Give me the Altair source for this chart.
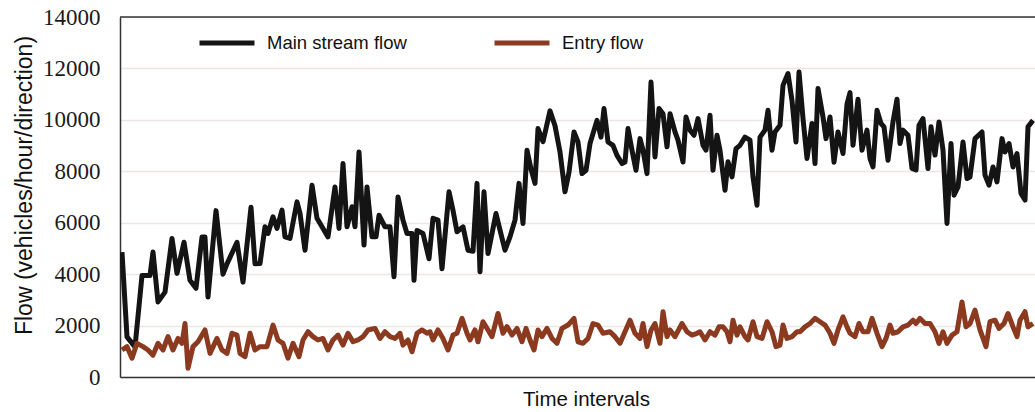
import altair as alt
import pandas as pd

# Time position (arbitrary interval units) and flow values
main_t = [2, 7, 15, 22, 30, 33, 38, 45, 52, 57, 64, 70, 76, 82, 85, 88, 96, 103, 107, 117, 123, 131, 135,
          140, 145, 148, 153, 157, 162, 165, 170, 177, 180, 185, 192, 197, 202, 208, 215, 219, 223, 227, 232, 235, 239, 244, 247, 252, 256, 259, 265, 270, 274, 278, 283, 287, 292, 294, 297,
          303, 309, 313, 318, 322, 329, 333, 337, 343, 348, 353, 357, 360, 364, 368, 376, 380, 385, 390, 395, 399, 403, 407, 411, 415, 418, 423, 430, 435, 440, 445, 449,
          454, 458, 462, 466, 470, 477, 481, 484, 488, 493, 497, 502, 505, 508, 512, 516, 520, 523, 527, 531, 535, 539, 543, 547, 550, 555, 558, 563, 566, 570, 574, 578, 583, 586, 590, 593, 597,
          600, 605, 608, 612, 616, 620, 625, 630, 633, 637, 640, 645, 648, 652, 655, 660, 663, 668, 672, 676, 679, 683, 687, 692, 695, 698, 703, 706, 710, 714, 718, 723, 727, 730, 733, 738, 742,
          747, 750, 753, 757, 761, 764, 768, 773, 777, 780, 783, 788, 792, 796, 799, 803, 808, 811, 815, 819, 823, 827, 831, 834, 838, 843, 847, 850, 855, 862, 865, 869, 873, 877, 882, 885, 889, 893, 897, 901, 905, 908, 913]
main_flow = [4860, 1560, 1170, 3950, 3950, 4860, 2920, 3300, 5390, 4030, 5240, 3760, 3450, 5440, 5440, 3110, 6470, 4000, 4400, 5240, 3690, 6600, 4400,
             4410, 5840, 5580, 6230, 5780, 6490, 5450, 5390, 6810, 6360, 4930, 7460, 6170, 5840, 5450, 7390, 5780, 8300, 5840, 6620, 5840, 8750, 5130, 7390, 5450, 5450, 6290, 5840, 5840, 3900, 7000, 6100, 5580, 5580, 3760, 5700,
             5580, 4600, 6170, 6100, 4210, 7200, 6480, 5650, 5840, 4930, 4890, 7530, 4090, 7200, 4800, 6360, 5710, 4930, 5450, 6100, 7530, 5970, 8820, 8090, 7530, 9660, 9150, 10350, 9770, 8750, 7200, 7960,
             9530, 9140, 7910, 8040, 9080, 9980, 9330, 10440, 9140, 9010, 8620, 8300, 8360, 9660, 8820, 8040, 9270, 8820, 7910, 11470, 8560, 10440, 10240, 8950, 10240, 9530, 9210, 8360, 10110, 9600, 9400, 10050, 9010, 8820, 10180, 8040, 9400,
             8820, 7260, 8370, 7780, 8880, 9010, 9330, 9210, 7780, 6680, 9330, 9600, 10370, 8820, 9530, 9790, 11340, 11800, 10750, 9140, 11860, 10050, 8500, 9860, 8300, 11220, 10110, 9270, 10110, 8350, 9530, 8690, 10610, 11060, 9010, 10800, 8820,
             9600, 8500, 8170, 10370, 9860, 9730, 8430, 9920, 10800, 9080, 9600, 9400, 8110, 8050, 9790, 10050, 8110, 9730, 8630, 9920, 8820, 5970, 9080, 7070, 7390, 9140, 7720, 7780, 9270, 9530, 7850, 7460, 8170, 7590, 9270, 8750, 9080, 8170, 8690, 7140, 6880, 9730, 9980]

entry_t = [2, 7, 12, 17, 23, 28, 33, 38, 43, 48, 53, 58, 62, 65, 68, 73, 78, 85, 90, 97, 102, 107, 112, 117, 120, 125, 130, 135,
           140, 147, 153, 158, 163, 168, 173, 179, 183, 188, 193, 198, 203, 208, 213, 218, 223, 228, 233, 238, 243, 248, 255, 260, 265, 270, 275, 280, 283, 288, 292, 297,
           302, 307, 310, 313, 318, 323, 328, 333, 337, 342, 347, 350, 355, 358, 363, 368, 372, 378, 383, 387, 392, 397, 402, 406, 410, 414, 418, 422, 427, 432, 437, 442, 448,
           454, 458, 463, 468, 473, 478, 483, 490, 495, 500, 505, 510, 515, 520, 523, 527, 531, 535, 540, 543, 547, 550, 555, 562, 567, 572, 577, 580, 585, 590, 595, 599,
           603, 607, 610, 613, 617, 620, 625, 628, 633, 637, 642, 647, 652, 656, 660, 663, 667, 672, 677, 680, 685, 690, 695, 700, 705, 710, 714, 718, 723, 727, 730, 735, 739, 743, 748,
           752, 757, 762, 766, 770, 773, 778, 783, 788, 793, 796, 800, 805, 810, 815, 819, 823, 827, 832, 837, 842, 846, 850, 855, 860, 866, 870, 875, 879, 884, 888, 893, 897, 900, 905, 908, 913]
entry_flow = [1050, 1180, 730, 1310, 1180, 1050, 850, 1310, 1050, 1570, 1050, 1500, 1310, 2080, 340, 1180, 1370, 1830, 920, 1500, 1050, 920, 1700, 1630, 920, 790, 1700, 1050,
              1180, 1180, 2020, 1440, 1310, 730, 1310, 790, 1440, 1760, 1570, 1440, 1500, 1050, 1440, 1630, 1240, 1700, 1370, 1440, 1570, 1830, 1890, 1500, 1760, 1570, 1500, 1700, 1240, 1440, 980, 1700,
              1830, 1700, 1760, 1440, 1830, 1500, 1050, 1630, 1700, 2280, 1700, 1440, 1830, 1370, 2150, 1830, 1570, 2470, 1700, 1960, 1630, 1890, 1370, 1890, 1440, 1050, 1830, 1570, 1890, 1500, 1310, 1890, 2020,
              2280, 1370, 1310, 1500, 2080, 2020, 1700, 1760, 1570, 1310, 1760, 2210, 1700, 1500, 2080, 1180, 1820, 2080, 1310, 2540, 1570, 1830, 1570, 2080, 1760, 1630, 1700, 1760, 1440, 1760, 1630, 1950,
              1950, 1760, 1370, 2210, 1630, 1950, 1570, 1440, 2150, 1570, 1500, 2150, 1760, 1180, 1240, 2020, 1500, 1570, 1760, 1760, 1950, 2080, 2280, 2150, 2020, 1700, 1310, 1830, 2340, 1950, 1700, 1570, 2080, 1760, 1760,
              2280, 1700, 1180, 1500, 2020, 1700, 1760, 1950, 2020, 2210, 2080, 2280, 2080, 2080, 1760, 1310, 1760, 1310, 1630, 1760, 2920, 1950, 2080, 2600, 1830, 1180, 2150, 2210, 1890, 2080, 2470, 1950, 1570, 2210, 2540, 1950, 2080]

series_names = ["Main stream flow", "Entry flow"]
series_colors = ["#141414", "#8b3a20"]
y_ticks = [0, 2000, 4000, 6000, 8000, 10000, 12000, 14000]
y_top = 14000

df = pd.concat([
    pd.DataFrame({"t": main_t, "flow": main_flow, "series": series_names[0], "order": 0}),
    pd.DataFrame({"t": entry_t, "flow": entry_flow, "series": series_names[1], "order": 1}),
])

SERIF = "Times New Roman"
SANS = "Liberation Sans"

y_axis = alt.Axis(values=y_ticks, format="d", grid=True, gridColor="#eee6e4", gridWidth=1.5,
                  ticks=False, domain=True, domainColor="#333333", domainWidth=1.5,
                  labelFont=SERIF, labelFontSize=23, labelColor="#1a1a1a",
                  labelPadding=20,
                  title="Flow (vehicles/hour/direction)", titleFont=SANS,
                  titleFontSize=23, titleFontWeight="normal", titleColor="#111111",
                  titleAngle=-90, titleX=-96, titleY=168, titleAlign="center",
                  titleBaseline="middle")

lines = alt.Chart(df).mark_line(strokeWidth=5, strokeJoin="round", clip=True).encode(
    x=alt.X("t:Q", scale=alt.Scale(domain=[0, 915], nice=False, zero=False),
            axis=alt.Axis(labels=False, ticks=False, grid=False, domain=True,
                          domainColor="#333333", domainWidth=1.5,
                          title="Time intervals", titleFont=SANS, titleFontSize=20.5,
                          titleFontWeight="normal", titleColor="#111111",
                          titleX=466, titleY=22, titleBaseline="middle", titleAlign="center")),
    y=alt.Y("flow:Q", scale=alt.Scale(domain=[0, 14000], nice=False), axis=y_axis),
    color=alt.Color("series:N", scale=alt.Scale(domain=series_names, range=series_colors),
                    legend=alt.Legend(orient="none", legendX=77, legendY=-4, direction="horizontal",
                                      title=None, symbolType="stroke", symbolSize=3025,
                                      symbolStrokeWidth=5, labelFont=SANS,
                                      labelFontSize=18.5, labelColor="#111111", labelOffset=10,
                                      columnPadding=77, padding=0, labelLimit=400)),
    detail="series:N",
    order="order:Q",
)

top_border = alt.Chart().mark_rule(color="#333333", strokeWidth=1.5).encode(
    y=alt.datum(y_top)
)

chart = alt.layer(lines, top_border).properties(
    width=915, height=360,
    autosize="none",
    padding={"left": 120, "top": 17, "right": 0, "bottom": 35},
    background="white",
).configure_view(stroke=None).configure_axisY(labelFont=SERIF)

chart.save("out.html", embed_options={"renderer": "svg", "actions": False})
